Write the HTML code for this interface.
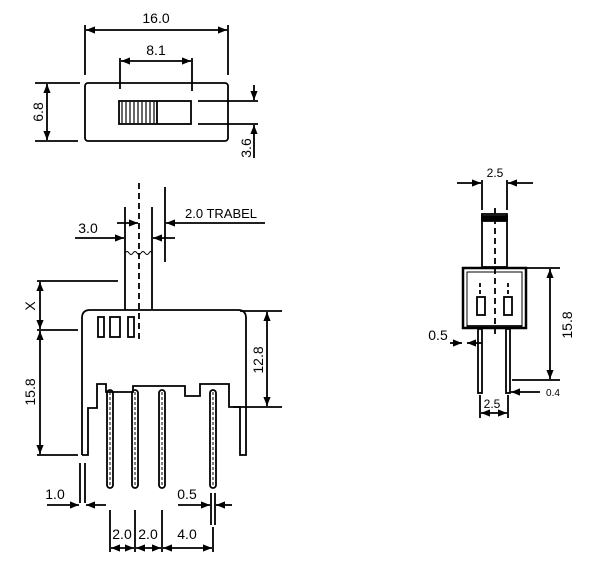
<!DOCTYPE html>
<html><head><meta charset="utf-8"><style>
html,body{margin:0;padding:0;background:#fff;width:600px;height:561px;overflow:hidden}
text{font-family:"Liberation Sans",sans-serif;fill:#000}
</style></head><body>
<svg width="600" height="561" viewBox="0 0 600 561" xmlns="http://www.w3.org/2000/svg">
<defs>
<marker id="a" viewBox="0 0 10 10" refX="10" refY="5" markerWidth="9" markerHeight="9" orient="auto-start-reverse" markerUnits="userSpaceOnUse"><path d="M0,1 L10,5 L0,9 z" fill="#000"/></marker>
</defs>
<g stroke="#000" stroke-width="1.8" fill="none">
<!-- TOP VIEW -->
<rect x="85" y="83" width="143" height="58" rx="3"/>
<rect x="119" y="101" width="72" height="23"/>
<g stroke-width="1.2">
<line x1="122" y1="102" x2="122" y2="123"/><line x1="126" y1="102" x2="126" y2="123"/><line x1="130" y1="102" x2="130" y2="123"/><line x1="134" y1="102" x2="134" y2="123"/><line x1="138" y1="102" x2="138" y2="123"/><line x1="142" y1="102" x2="142" y2="123"/><line x1="146" y1="102" x2="146" y2="123"/><line x1="150" y1="102" x2="150" y2="123"/><line x1="154" y1="102" x2="154" y2="123"/>
</g>
<line x1="157" y1="101" x2="157" y2="124"/>
<line x1="85" y1="25" x2="85" y2="75"/><line x1="228" y1="25" x2="228" y2="75"/>
<line x1="86" y1="30" x2="227" y2="30" marker-start="url(#a)" marker-end="url(#a)"/>
<line x1="120" y1="58" x2="120" y2="89"/><line x1="192" y1="58" x2="192" y2="91"/>
<line x1="121" y1="61" x2="191" y2="61" marker-start="url(#a)" marker-end="url(#a)"/>
<line x1="35" y1="83" x2="80" y2="83"/><line x1="35" y1="141" x2="78" y2="141"/>
<line x1="47" y1="84" x2="47" y2="140" marker-start="url(#a)" marker-end="url(#a)"/>
<line x1="198" y1="101" x2="258" y2="101"/><line x1="198" y1="124" x2="258" y2="124"/>
<line x1="254" y1="85" x2="254" y2="100" marker-end="url(#a)"/>
<line x1="254" y1="158" x2="254" y2="125" marker-end="url(#a)"/>

<!-- FRONT VIEW -->
<line x1="139" y1="183" x2="139" y2="340" stroke-dasharray="6,4"/>
<line x1="125" y1="207" x2="125" y2="310"/><line x1="152" y1="207" x2="152" y2="310"/>
<line x1="165" y1="187" x2="165" y2="262"/>
<path d="M125,253 q2,-3 4,0 t4,0 t4,0 t4,0 t4,0 t4,0 t3,0" stroke-width="1"/>
<line x1="75" y1="238" x2="124" y2="238" marker-end="url(#a)"/>
<line x1="117" y1="223" x2="138" y2="223" marker-end="url(#a)"/>
<line x1="265" y1="223" x2="166" y2="223" marker-end="url(#a)"/>
<line x1="175" y1="238" x2="153" y2="238" marker-end="url(#a)"/>
<path d="M82,455 L82,318 Q82,310 90,310 L238,310 Q246,310 246,318 L246,407"/>
<path d="M82,455 L88,455 L88,408 L97,408 L97,384 L106,384 L106,392 L133,392 L133,386 L185,386 L185,396 L200,396 L200,384 L229,384 L229,407 L240,407 L240,455 L246,455 L246,407"/>
<rect x="98" y="317" width="6" height="20"/><rect x="110" y="317" width="10" height="20"/><rect x="128" y="317" width="6" height="20"/>
<g>
<rect x="107" y="390" width="6" height="98" rx="3"/>
<rect x="132" y="390" width="6" height="98" rx="3"/>
<rect x="159" y="390" width="6" height="98" rx="3"/>
<rect x="210" y="390" width="6" height="98" rx="3"/>
</g>
<g stroke-dasharray="3,2" stroke-width="1">
<line x1="110" y1="392" x2="110" y2="485"/><line x1="135" y1="392" x2="135" y2="485"/><line x1="162" y1="392" x2="162" y2="485"/><line x1="213" y1="392" x2="213" y2="485"/>
</g>
<line x1="37" y1="281" x2="118" y2="281"/><line x1="37" y1="330" x2="78" y2="330"/><line x1="37" y1="455" x2="78" y2="455"/>
<line x1="40" y1="282" x2="40" y2="329" marker-start="url(#a)" marker-end="url(#a)"/>
<line x1="40" y1="331" x2="40" y2="454" marker-start="url(#a)" marker-end="url(#a)"/>
<line x1="240" y1="311" x2="282" y2="311"/><line x1="233" y1="407" x2="282" y2="407"/>
<line x1="267" y1="312" x2="267" y2="406" marker-start="url(#a)" marker-end="url(#a)"/>
<line x1="80" y1="463" x2="80" y2="503"/><line x1="85" y1="463" x2="85" y2="503"/>
<line x1="47" y1="505" x2="79" y2="505" marker-end="url(#a)"/>
<line x1="106" y1="505" x2="86" y2="505" marker-end="url(#a)"/>
<line x1="211" y1="493" x2="211" y2="525"/><line x1="215" y1="493" x2="215" y2="525"/>
<line x1="178" y1="505" x2="210" y2="505" marker-end="url(#a)"/>
<line x1="232" y1="505" x2="216" y2="505" marker-end="url(#a)"/>
<line x1="110" y1="510" x2="110" y2="552"/><line x1="135" y1="510" x2="135" y2="552"/><line x1="162" y1="510" x2="162" y2="552"/><line x1="213" y1="527" x2="213" y2="552"/>
<line x1="111" y1="548" x2="134" y2="548" marker-start="url(#a)" marker-end="url(#a)"/>
<line x1="136" y1="548" x2="161" y2="548" marker-start="url(#a)" marker-end="url(#a)"/>
<line x1="163" y1="548" x2="212" y2="548" marker-start="url(#a)" marker-end="url(#a)"/>

<!-- SIDE VIEW -->
<rect x="482" y="214" width="25" height="53"/>
<rect x="482" y="216" width="25" height="5" fill="#000"/>
<line x1="495" y1="208" x2="495" y2="335" stroke-dasharray="6,4"/>
<rect x="463" y="268" width="63" height="60" stroke-width="2.5"/>
<rect x="467" y="272" width="55" height="56" stroke-width="1"/>
<line x1="467" y1="326" x2="522" y2="326"/>
<rect x="477" y="297" width="8" height="18"/><rect x="504" y="297" width="8" height="18"/>
<line x1="480" y1="283" x2="480" y2="297" stroke-dasharray="4,3"/><line x1="508" y1="283" x2="508" y2="297" stroke-dasharray="4,3"/>
<rect x="478" y="329" width="4" height="64"/><rect x="506" y="329" width="4" height="64"/>
<line x1="482" y1="180" x2="482" y2="210"/><line x1="507" y1="180" x2="507" y2="210"/>
<line x1="457" y1="183" x2="481" y2="183" marker-end="url(#a)"/>
<line x1="533" y1="183" x2="508" y2="183" marker-end="url(#a)"/>
<line x1="527" y1="268" x2="560" y2="268"/><line x1="512" y1="380" x2="560" y2="380"/>
<line x1="550" y1="269" x2="550" y2="379" marker-start="url(#a)" marker-end="url(#a)"/>
<line x1="450" y1="343" x2="462" y2="343" marker-end="url(#a)"/>
<line x1="482" y1="343" x2="467" y2="343" marker-end="url(#a)"/>
<line x1="540" y1="392" x2="511" y2="392" marker-end="url(#a)"/>
<line x1="480" y1="395" x2="480" y2="418"/><line x1="508" y1="395" x2="508" y2="418"/>
<line x1="481" y1="413" x2="507" y2="413" marker-start="url(#a)" marker-end="url(#a)"/>
</g>
<g font-size="14">
<text x="156" y="23" text-anchor="middle">16.0</text>
<text x="156" y="55" text-anchor="middle">8.1</text>
<text transform="translate(43,112) rotate(-90)" text-anchor="middle">6.8</text>
<text transform="translate(251,148) rotate(-90)" text-anchor="middle">3.6</text>
<text x="88" y="233" text-anchor="middle">3.0</text>
<text x="185" y="218" font-size="13">2.0  TRABEL</text>
<text transform="translate(35,306) rotate(-90)" text-anchor="middle">X</text>
<text transform="translate(35,392) rotate(-90)" text-anchor="middle">15.8</text>
<text transform="translate(263,360) rotate(-90)" text-anchor="middle">12.8</text>
<text x="55" y="499" text-anchor="middle">1.0</text>
<text x="187" y="499" text-anchor="middle">0.5</text>
<text x="122" y="539" text-anchor="middle">2.0</text>
<text x="148" y="539" text-anchor="middle">2.0</text>
<text x="187" y="539" text-anchor="middle">4.0</text>
<text x="495" y="177" text-anchor="middle" font-size="12">2.5</text>
<text transform="translate(572,325) rotate(-90)" text-anchor="middle">15.8</text>
<text x="438" y="340" text-anchor="middle">0.5</text>
<text x="553" y="396" text-anchor="middle" font-size="10">0.4</text>
<text x="492" y="408" text-anchor="middle" font-size="12">2.5</text>
</g>
</svg>
</body></html>
